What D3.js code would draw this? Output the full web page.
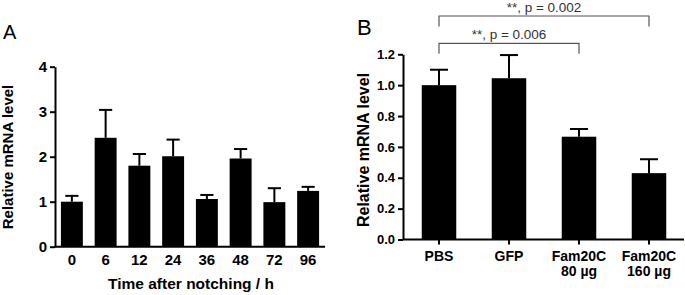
<!DOCTYPE html>
<html>
<head>
<meta charset="utf-8">
<script src="https://cdn.jsdelivr.net/npm/d3@7"></script>
<style>
  body { margin: 0; background: #fff; }
  svg { display: block; font-family: "Liberation Sans", Arial, sans-serif; }
  .axis path, .axis line { stroke: #000; stroke-width: 2px; }
  .axis text { font-weight: bold; fill: #000; }
</style>
</head>
<body>
<div id="chart"></div>
<script>
// Panel A: time course
const timeLabels = ["0", "6", "12", "24", "36", "48", "72", "96"];
const timeMeans = [1.0, 2.42, 1.8, 2.01, 1.06, 1.96, 0.99, 1.24];
const timeErr = [0.13, 0.62, 0.26, 0.37, 0.09, 0.21, 0.31, 0.09];
const timeTicks = [0, 1, 2, 3, 4];

// Panel B: treatments
const groupLabels = [["PBS"], ["GFP"], ["Fam20C", "80 µg"], ["Fam20C", "160 µg"]];
const groupMeans = [1.0, 1.045, 0.666, 0.43];
const groupErr = [0.10, 0.15, 0.05, 0.09];
const groupTicks = [0, 0.2, 0.4, 0.6, 0.8, 1.0, 1.2];
const comparisons = [
    { from: 0, to: 3, label: "**, p = 0.002" },
    { from: 0, to: 2, label: "**, p = 0.006" }
];

const svg = d3.select("#chart").append("svg")
    .attr("width", 685)
    .attr("height", 295);

function drawA() {
    const x = d3.scaleBand()
        .domain(timeLabels)
        .range([55, 325])
        .paddingInner(0.35)
        .paddingOuter(0.175);

    const y = d3.scaleLinear().domain([0, 4]).range([246.7, 66.7]);

    const data = timeLabels.map((t, i) => ({ t: t, m: timeMeans[i], e: timeErr[i] }));

    // error bars (upper only)
    const err = svg.append("g").attr("stroke", "#000").attr("stroke-width", 2);
    err.selectAll(".v").data(data).join("line")
        .attr("x1", d => x(d.t) + x.bandwidth() / 2)
        .attr("x2", d => x(d.t) + x.bandwidth() / 2)
        .attr("y1", d => y(d.m))
        .attr("y2", d => y(d.m + d.e));
    err.selectAll(".cap").data(data).join("line")
        .attr("x1", d => x(d.t) + x.bandwidth() * 0.2)
        .attr("x2", d => x(d.t) + x.bandwidth() * 0.8)
        .attr("y1", d => y(d.m + d.e))
        .attr("y2", d => y(d.m + d.e));

    svg.append("g").selectAll("rect").data(data).join("rect")
        .attr("x", d => x(d.t))
        .attr("y", d => y(d.m))
        .attr("width", x.bandwidth())
        .attr("height", d => y(0) - y(d.m))
        .attr("fill", "#000");

    const xAxis = svg.append("g")
        .attr("class", "axis")
        .attr("transform", `translate(0,${y(0)})`)
        .call(d3.axisBottom(x).tickSize(0).tickSizeOuter(0).tickPadding(8));
    xAxis.select(".domain").attr("d", `M55,0H325`);
    xAxis.selectAll("text").style("font-size", "15px");

    const yAxis = svg.append("g")
        .attr("class", "axis")
        .attr("transform", "translate(55,0)")
        .call(d3.axisLeft(y).tickValues(timeTicks).tickFormat(d3.format("d")).tickSize(5).tickSizeOuter(0).tickPadding(3));
    yAxis.selectAll("text").style("font-size", "15px");

    svg.append("text")
        .attr("x", 191)
        .attr("y", 289)
        .attr("text-anchor", "middle")
        .style("font-size", "15.5px")
        .style("font-weight", "bold")
        .text("Time after notching / h");

    svg.append("text")
        .attr("transform", "translate(13,157) rotate(-90)")
        .attr("text-anchor", "middle")
        .style("font-size", "15px")
        .style("font-weight", "bold")
        .text("Relative mRNA level");

    svg.append("text")
        .attr("x", 3)
        .attr("y", 39)
        .style("font-size", "20px")
        .text("A");
}

function drawB() {
    const keys = groupLabels.map((d, i) => i);
    const x = d3.scaleBand()
        .domain(keys)
        .range([404, 684])
        .paddingInner(0.507)
        .paddingOuter(0.2535);

    const y = d3.scaleLinear().domain([0, 1.2]).range([239.5, 54.3]);

    const data = keys.map(i => ({ k: i, m: groupMeans[i], e: groupErr[i] }));
    const cx = k => x(k) + x.bandwidth() / 2;

    const err = svg.append("g").attr("stroke", "#000").attr("stroke-width", 2);
    err.selectAll(".v").data(data).join("line")
        .attr("x1", d => cx(d.k))
        .attr("x2", d => cx(d.k))
        .attr("y1", d => y(d.m))
        .attr("y2", d => y(d.m + d.e));
    err.selectAll(".cap").data(data).join("line")
        .attr("x1", d => cx(d.k) - 9)
        .attr("x2", d => cx(d.k) + 9)
        .attr("y1", d => y(d.m + d.e))
        .attr("y2", d => y(d.m + d.e));

    svg.append("g").selectAll("rect").data(data).join("rect")
        .attr("x", d => x(d.k))
        .attr("y", d => y(d.m))
        .attr("width", x.bandwidth())
        .attr("height", d => y(0) - y(d.m))
        .attr("fill", "#000");

    const xAxis = svg.append("g")
        .attr("class", "axis")
        .attr("transform", `translate(0,${y(0)})`)
        .call(d3.axisBottom(x).tickSize(5).tickSizeOuter(0).tickFormat(""));
    xAxis.select(".domain").attr("d", "M403,0H684");

    // multi-line category labels
    xAxis.selectAll(".tick").append("text")
        .attr("fill", "#000")
        .attr("text-anchor", "middle")
        .style("font-size", "14px")
        .each(function(k) {
            const t = d3.select(this);
            groupLabels[k].forEach((line, j) => {
                t.append("tspan")
                    .attr("x", 0)
                    .attr("y", 21.5 + j * 14.5)
                    .text(line);
            });
        });

    const yAxis = svg.append("g")
        .attr("class", "axis")
        .attr("transform", "translate(403,0)")
        .call(d3.axisLeft(y).tickValues(groupTicks).tickFormat(d3.format(".1f")).tickSize(5).tickSizeOuter(0).tickPadding(3));
    yAxis.selectAll("text").style("font-size", "13px");

    svg.append("text")
        .attr("transform", "translate(369,150) rotate(-90)")
        .attr("text-anchor", "middle")
        .style("font-size", "16px")
        .style("font-weight", "bold")
        .text("Relative mRNA level");

    svg.append("text")
        .attr("x", 357)
        .attr("y", 35)
        .style("font-size", "22px")
        .text("B");

    // significance brackets
    const levels = [16, 43.3];
    comparisons.forEach((c, i) => {
        const yb = levels[i];
        const x1 = cx(c.from), x2 = cx(c.to);
        svg.append("path")
            .attr("d", `M${x1},${yb + 10.5}V${yb}H${x2}V${yb + 10.5}`)
            .attr("fill", "none")
            .attr("stroke", "#555")
            .attr("stroke-width", 1.2);
        svg.append("text")
            .attr("x", (x1 + x2) / 2)
            .attr("y", yb - 4.5)
            .attr("text-anchor", "middle")
            .attr("fill", "#333")
            .style("font-size", "13.5px")
            .text(c.label);
    });
}

drawA();
drawB();
</script>
</body>
</html>
